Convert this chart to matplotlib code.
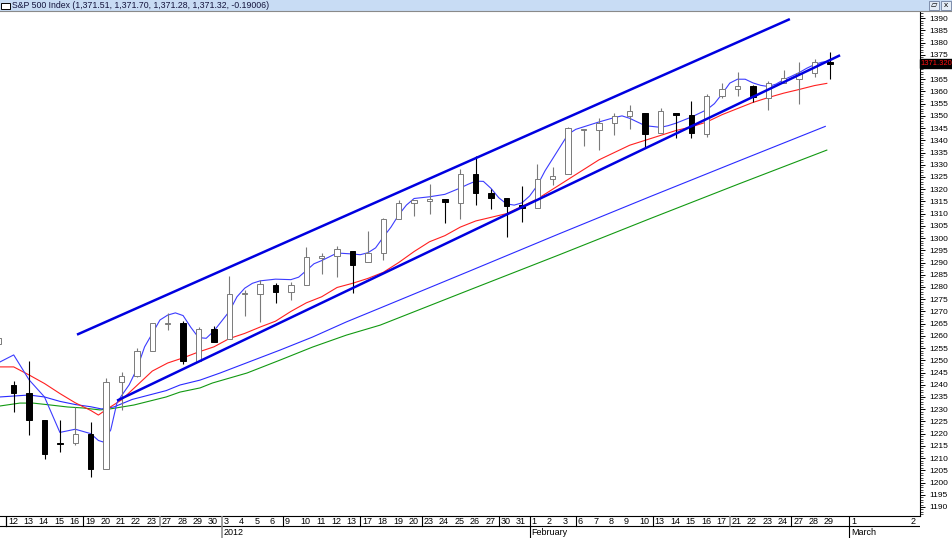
import matplotlib
matplotlib.use("Agg")
import matplotlib.pyplot as plt
import matplotlib.transforms as mtransforms
from matplotlib.patches import Rectangle
from matplotlib.ticker import MultipleLocator

plt.rcParams.update({"font.family": ["Liberation Sans", "DejaVu Sans"], "font.size": 6.5})

W, H = 952, 538
DAY_PX, X0 = 15.4, 6.0            # pixels per trading day, left edge of Dec 12
AX_R, AX_B, AX_T = 920, 516, 12   # pixel frame of the price pane

# ---- daily bars: Dec 9 (partial) .. Feb 29 (partial) ----
bar_days = list(range(-1, 54))
opens = [1256.5, 1240.0, 1236.8, 1225.7, 1216.1, 1216.1, 1219.7, 1205.7, 1241.3, 1243.7, 1254.0,
         1265.0, 1265.4, 1249.8, 1262.8,
         1258.9, 1277.0, 1277.3, 1280.9, 1277.8, 1280.8, 1292.0, 1292.5, 1294.8, 1290.2, 1293.7,
         1308.0, 1314.5, 1315.3, 1316.0, 1314.4, 1326.3, 1318.3, 1316.2, 1313.5,
         1312.5, 1324.2, 1326.2, 1344.3, 1344.3, 1347.0, 1350.0, 1351.2, 1343.1, 1351.3, 1350.5,
         1342.6, 1358.0, 1361.2, 1362.1, 1357.5, 1363.5, 1365.2, 1367.6, 1372.2]
highs = [1261.0, 1241.5, 1249.9, 1225.7, 1225.6, 1231.0, 1224.6, 1242.8, 1245.1, 1255.2, 1265.4,
         1269.4, 1265.9, 1263.5, 1264.1,
         1284.6, 1278.7, 1283.0, 1281.8, 1282.0, 1296.5, 1293.8, 1296.8, 1294.8, 1303.0, 1308.1,
         1315.5, 1315.4, 1322.3, 1316.0, 1328.3, 1333.5, 1320.1, 1316.2, 1321.4,
         1330.5, 1329.2, 1345.3, 1344.4, 1349.2, 1351.0, 1354.3, 1351.2, 1353.4, 1351.3, 1355.9,
         1359.0, 1363.4, 1367.8, 1362.7, 1364.2, 1368.9, 1371.9, 1373.1, 1376.0]
lows = [1255.5, 1229.0, 1219.4, 1209.5, 1212.3, 1215.2, 1202.4, 1205.7, 1229.5, 1243.2, 1254.0,
        1262.3, 1248.6, 1249.8, 1257.5,
        1258.9, 1268.1, 1265.7, 1273.3, 1274.6, 1280.8, 1285.4, 1284.0, 1277.6, 1290.2, 1291.0,
        1308.0, 1309.2, 1309.9, 1306.1, 1307.7, 1313.6, 1311.7, 1300.5, 1306.7,
        1312.5, 1321.6, 1326.2, 1337.5, 1335.9, 1342.0, 1344.6, 1337.4, 1343.1, 1340.8, 1340.8,
        1341.2, 1357.2, 1358.1, 1355.5, 1352.3, 1363.5, 1354.9, 1366.0, 1365.0]
closes = [1259.0, 1236.5, 1225.7, 1211.8, 1215.8, 1219.7, 1205.4, 1241.3, 1243.7, 1254.0, 1265.3,
          1265.4, 1249.6, 1263.0, 1257.6,
          1277.1, 1277.3, 1281.1, 1277.8, 1280.7, 1292.1, 1292.5, 1295.5, 1289.1, 1293.7, 1308.0,
          1314.5, 1315.4, 1316.0, 1314.6, 1326.1, 1318.4, 1316.3, 1313.0, 1312.4,
          1324.1, 1325.5, 1344.9, 1344.3, 1347.0, 1350.0, 1352.0, 1342.6, 1351.8, 1350.5, 1343.2,
          1358.0, 1361.2, 1362.2, 1357.7, 1363.5, 1365.7, 1367.6, 1372.2, 1371.3]

# ---- moving averages (day position, value) ----
fast_x = [-0.4, 0.5, 1.5, 2.5, 3.5, 4.5, 5.5, 6.0, 6.3, 6.8, 7.2, 7.5, 8.0, 8.5, 9.0, 9.5, 10.0,
          10.5, 11.0, 11.5, 12.0, 12.5, 13.0, 13.5, 14.0, 14.5, 15.0, 15.5, 16.0, 16.5, 17.5,
          18.5, 19.0, 19.5, 20.0, 20.5, 21.5, 22.5, 23.0, 23.5, 24.0, 24.5, 25.0, 25.5, 26.0,
          26.5, 27.5, 28.5, 29.5, 30.0, 30.5, 31.0, 31.5, 32.0, 32.5, 33.0, 33.5, 34.0, 34.5,
          35.0, 35.5, 36.0, 36.5, 37.0, 37.5, 38.5, 39.5, 40.0, 40.5, 41.0, 41.5, 42.5, 43.0,
          43.5, 44.5, 45.5, 46.0, 46.5, 47.0, 47.5, 48.0, 48.5, 49.0, 49.5, 50.0, 50.5, 51.0,
          51.5, 52.0, 52.5, 53.0, 53.3]
fast_y = [1249.3, 1252.2, 1242.0, 1235.0, 1220.5, 1221.8, 1220.0, 1217.2, 1216.6, 1221.5,
          1232.5, 1235.5, 1240.0, 1246.5, 1255.5, 1261.0, 1266.5, 1268.5, 1269.4, 1268.3,
          1263.5, 1259.3, 1259.0, 1262.0, 1266.0, 1270.0, 1276.0, 1279.5, 1281.5, 1282.5,
          1283.2, 1283.0, 1284.0, 1286.7, 1289.5, 1290.8, 1293.9, 1293.5, 1293.2, 1294.0,
          1296.0, 1300.4, 1304.5, 1309.5, 1313.5, 1316.2, 1316.9, 1317.9, 1320.5, 1322.0,
          1323.3, 1323.2, 1320.3, 1316.5, 1314.0, 1313.5, 1314.4, 1317.2, 1321.5, 1327.5,
          1332.5, 1337.5, 1342.5, 1344.5, 1345.5, 1347.5, 1349.3, 1350.0, 1349.0, 1347.5,
          1346.0, 1345.3, 1346.0, 1347.0, 1349.5, 1352.5, 1355.0, 1359.0, 1363.4, 1365.0,
          1365.0, 1363.5, 1362.5, 1362.0, 1363.0, 1364.8, 1366.2, 1367.7, 1369.5, 1371.0,
          1372.0, 1372.2]

red_x = [-0.4, 0.5, 1.5, 2.5, 3.5, 4.5, 5.5, 6.0, 6.5, 7.5, 8.5, 9.5, 10.5, 11.5, 12.5, 13.5,
         14.5, 15.5, 16.5, 17.5, 18.5, 19.5, 20.5, 21.5, 22.5, 23.5, 24.5, 25.5, 26.5, 27.5,
         28.5, 29.5, 30.5, 31.5, 32.5, 33.5, 34.5, 35.5, 36.5, 37.5, 38.5, 39.5, 40.5, 41.5,
         42.5, 43.5, 44.5, 45.5, 46.5, 47.5, 48.5, 49.5, 50.5, 51.5, 52.5, 53.3]
red_y = [1247.3, 1247.3, 1244.0, 1240.5, 1236.4, 1232.6, 1229.5, 1227.6, 1229.8, 1233.8, 1239.7,
         1245.6, 1248.9, 1251.0, 1253.4, 1255.5, 1258.9, 1261.0, 1263.6, 1266.0, 1270.0, 1273.5,
         1276.0, 1279.8, 1281.5, 1283.5, 1286.0, 1290.0, 1294.5, 1298.5, 1301.0, 1304.5, 1307.0,
         1308.5, 1310.0, 1313.0, 1316.0, 1320.0, 1324.0, 1328.0, 1332.0, 1335.0, 1338.0, 1340.0,
         1342.0, 1344.0, 1345.5, 1347.5, 1350.5, 1353.0, 1355.5, 1357.5, 1359.3, 1360.8, 1362.4,
         1363.3]

slow_x = [-0.4, 1.5, 2.5, 3.5, 4.5, 5.5, 6.2, 7.0, 8.2, 10.4, 11.3, 12.6, 13.9, 15.6, 17.8, 19.9,
          22.1, 24.3, 30.1, 35.9, 41.8, 47.6, 53.2]
slow_y = [1235.0, 1235.8, 1235.0, 1233.2, 1231.9, 1231.0, 1230.1, 1230.9, 1234.0, 1237.6, 1239.9,
          1241.9, 1244.8, 1248.9, 1254.2, 1259.5, 1265.7, 1271.4, 1286.5, 1301.7, 1316.9, 1331.6,
          1345.7]

green_x = [-0.4, 0.9, 1.75, 2.9, 4.0, 5.0, 6.1, 6.75, 8.3, 10.4, 11.3, 12.6, 13.4, 15.65, 17.8,
           19.9, 22.1, 24.3, 30.1, 35.9, 41.8, 47.6, 53.3]
green_y = [1231.3, 1232.5, 1232.5, 1231.7, 1230.9, 1230.5, 1229.7, 1230.1, 1231.7, 1235.0, 1237.0,
           1238.7, 1240.7, 1244.8, 1250.1, 1255.4, 1260.3, 1264.4, 1278.8, 1293.1, 1307.9, 1322.2,
           1336.0]

# ---- trend channel (day position, value) ----
upper_x, upper_y = [4.61, 50.9], [1260.5, 1389.6]
lower_x, lower_y = [7.21, 54.16], [1233.5, 1374.8]

# ---- date axis ----
day_labels = ["12", "13", "14", "15", "16", "19", "20", "21", "22", "23", "27", "28", "29", "30",
              "3", "4", "5", "6", "9", "10", "11", "12", "13", "17", "18", "19", "20",
              "23", "24", "25", "26", "27", "30", "31", "1", "2", "3", "6", "7", "8", "9", "10",
              "13", "14", "15", "16", "17", "21", "22", "23", "24", "27", "28", "29"]
week_starts = [0, 5, 10, 14, 18, 23, 27, 32, 34, 37, 42, 47, 51]
gray_seps = [10, 14, 47]
month_starts = [14, 34, 54.74]
month_labels = ["2012", "February", "March"]
march_days = [54.74, 58.6]
march_labels = ["1", "2"]
last_price = 1371.32
title = "S&P 500 Index (1,371.51, 1,371.70, 1,371.28, 1,371.32, -0.19006)"

x_lo = -X0 / DAY_PX
x_hi = (AX_R - X0) / DAY_PX

fig = plt.figure(figsize=(W / 100, H / 100), dpi=100)
fig.patch.set_facecolor("white")

# price pane
ax = fig.add_axes([0, (H - AX_B) / H, AX_R / W, (AX_B - AX_T) / H])
ax.set_xlim(x_lo, x_hi)
ax.set_ylim(1186.3, 1392.5)

ax.plot(green_x, green_y, color="#129912", lw=0.8, zorder=2)
ax.plot(slow_x, slow_y, color="#2a2aff", lw=0.8, zorder=2)
ax.plot(red_x, red_y, color="#ff2020", lw=0.8, zorder=2)
ax.plot(fast_x, fast_y, color="#3c3cff", lw=0.8, zorder=2)

bw = 0.34
for d, o, h, l, c in zip(bar_days, opens, highs, lows, closes):
    xc = d + 0.5
    up = c >= o
    col = "#7a7a7a" if up else "black"
    ax.vlines(xc, l, h, color=col, lw=0.8, zorder=3)
    lo_b, hi_b = min(o, c), max(o, c)
    if hi_b - lo_b < 0.4:
        hi_b = lo_b + 0.4
    ax.add_patch(Rectangle((xc - bw / 2, lo_b), bw, hi_b - lo_b,
                           facecolor="white" if up else "black", edgecolor=col,
                           lw=0.7, zorder=4))

ax.plot(upper_x, upper_y, color="#0000e0", lw=1.8, zorder=5, solid_capstyle="butt")
ax.plot(lower_x, lower_y, color="#0000e0", lw=1.8, zorder=5, solid_capstyle="butt")

for s in ["left", "top"]:
    ax.spines[s].set_visible(False)
ax.spines["right"].set_linewidth(0.8)
ax.spines["bottom"].set_linewidth(0.8)
ax.set_xticks([])
ax.yaxis.tick_right()
ax.yaxis.set_minor_locator(MultipleLocator(1))
ax.set_yticks([v for v in range(1190, 1391, 5)])
ax.tick_params(axis="y", which="major", length=3.5, width=0.7, pad=3, labelsize=6)
ax.tick_params(axis="y", which="minor", length=1.8, width=0.5)

trans = mtransforms.blended_transform_factory(ax.transAxes, ax.transData)
ax.text(1.001, last_price, f"{last_price:.3f}", transform=trans, color="#ff1010",
        fontsize=5.5, ha="left", va="center", zorder=10, clip_on=False,
        bbox=dict(boxstyle="square,pad=0.12", facecolor="black", edgecolor="black"))

# date strip
axd = fig.add_axes([0, 0, AX_R / W, (H - AX_B) / H])
axd.set_xlim(x_lo, x_hi)
axd.set_ylim(H - AX_B, 0)
axd.axis("off")
axd.plot([x_lo, x_hi], [10, 10], color="black", lw=0.8)
for i in week_starts:
    full = i in month_starts
    axd.plot([i, i], [0, 22 if full else 10], color="#909090" if i in gray_seps else "black",
             lw=1.2 if i in gray_seps else 0.8)
axd.plot([0, 0], [0, 10], color="black", lw=0.8)
for i, lab in enumerate(day_labels):
    axd.text(i + 0.12, 5.3, lab, fontsize=6.5, ha="left", va="center")
for m, lab in zip(month_starts, month_labels):
    axd.text(m + 0.12, 16.5, lab, fontsize=6.5, ha="left", va="center")
axd.plot([month_starts[-1]] * 2, [0, 22], color="black", lw=0.8)
for m, lab in zip(march_days, march_labels):
    axd.text(m + 0.12, 5.3, lab, fontsize=6.5, ha="left", va="center")

# title bar
axt = fig.add_axes([0, 1 - 11 / H, 1, 11 / H])
axt.set_xlim(0, W)
axt.set_ylim(11, 0)
axt.set_facecolor("#c8dcf4")
axt.set_xticks([])
axt.set_yticks([])
for s in ["left", "top", "right"]:
    axt.spines[s].set_visible(False)
axt.spines["bottom"].set_color("#8a8a8a")
axt.add_patch(Rectangle((1, 3), 9, 6, facecolor="white", edgecolor="black", lw=0.7))
axt.text(12, 5.5, title, fontsize=6.3, color="#14143c", ha="left", va="center")
for bx, glyph in [(929, "\u25b1"), (941, "x")]:
    axt.add_patch(Rectangle((bx, 1), 10, 9, facecolor="#e4ecf6", edgecolor="#7080a0", lw=0.6))
    axt.text(bx + 5, 5.5, glyph, fontsize=6, ha="center", va="center", color="black")

fig.savefig("out.png", dpi=100)
